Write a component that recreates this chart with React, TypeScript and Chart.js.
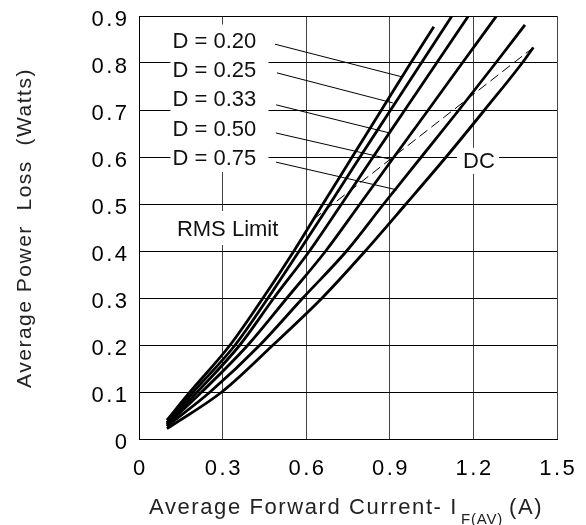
import React, { useEffect, useRef } from 'react';
import { Chart, registerables } from 'chart.js';

Chart.register(...registerables);

// Axis ticks
const xTickValues = [0, 0.3, 0.6, 0.9, 1.2, 1.5];
const xTickLabels = ['0', '0.3', '0.6', '0.9', '1.2', '1.5'];
const yTickValues = [0, 0.1, 0.2, 0.3, 0.4, 0.5, 0.6, 0.7, 0.8, 0.9];
const yTickLabels = ['0', '0.1', '0.2', '0.3', '0.4', '0.5', '0.6', '0.7', '0.8', '0.9'];

// Curves (x = average forward current A, y = power loss W)
const d020X = [0.1, 0.183, 0.327, 0.445, 0.556, 0.66, 0.765, 0.87, 0.975, 1.058];
const d020Y = [0.04, 0.1, 0.2, 0.3, 0.4, 0.5, 0.6, 0.7, 0.8, 0.877];
const d025X = [0.1, 0.195, 0.345, 0.463, 0.575, 0.685, 0.793, 0.903, 1.013, 1.123];
const d025Y = [0.035, 0.1, 0.2, 0.3, 0.4, 0.5, 0.6, 0.7, 0.8, 0.9];
const d033X = [0.1, 0.209, 0.362, 0.484, 0.612, 0.727, 0.84, 0.954, 1.068, 1.182];
const d033Y = [0.032, 0.1, 0.2, 0.3, 0.4, 0.5, 0.6, 0.7, 0.8, 0.9];
const d050X = [0.1, 0.225, 0.391, 0.531, 0.67, 0.793, 0.915, 1.038, 1.16, 1.283];
const d050Y = [0.03, 0.1, 0.2, 0.3, 0.4, 0.5, 0.6, 0.7, 0.8, 0.9];
const d075X = [0.1, 0.255, 0.434, 0.588, 0.745, 0.878, 1.013, 1.148, 1.28, 1.385];
const d075Y = [0.027, 0.1, 0.2, 0.3, 0.4, 0.5, 0.6, 0.7, 0.8, 0.881];
const dcX = [0.1, 0.297, 0.481, 0.657, 0.812, 0.958, 1.102, 1.24, 1.375, 1.415];
const dcY = [0.022, 0.1, 0.2, 0.3, 0.4, 0.5, 0.6, 0.7, 0.8, 0.833];

// RMS limit (dashed)
const rmsX = [0.625, 1.415];
const rmsY = [0.467, 0.833];

// Labels and their leader lines
const dLabels = ['D = 0.20', 'D = 0.25', 'D = 0.33', 'D = 0.50', 'D = 0.75'];
const dLabelX = 0.12;
const dLabelY = [0.85, 0.7875, 0.725, 0.6625, 0.6];
const leaderStartX = [0.488, 0.495, 0.492, 0.492, 0.492];
const leaderStartY = [0.84, 0.779, 0.711, 0.651, 0.589];
const leaderEndX = [0.947, 0.911, 0.9, 0.911, 0.926];
const leaderEndY = [0.77, 0.715, 0.651, 0.594, 0.53];

const rmsLabel = 'RMS Limit';
const rmsLabelPos = [0.136, 0.449];
const dcLabel = 'DC';
const dcLabelPos = [1.163, 0.594];

const xTitleMain = 'Average Forward Current- I';
const xTitleSub = 'F(AV)';
const xTitleTail = '(A)';
const yTitle = 'Average Power  Loss  (Watts)';

const toPts = (xs: number[], ys: number[]) => xs.map((x, i) => ({ x, y: ys[i] }));

const FONT = '"Liberation Sans", Arial, Helvetica, sans-serif';

const annotationPlugin = {
  id: 'annot',
  beforeDatasetsDraw(chart: any) {
    const ctx = chart.ctx as CanvasRenderingContext2D;
    const xs = chart.scales.x;
    const ys = chart.scales.y;
    ctx.save();
    ctx.font = `22px ${FONT}`;
    ctx.textBaseline = 'alphabetic';
    ctx.textAlign = 'left';
    dLabels.forEach((t, i) => {
      const px = xs.getPixelForValue(dLabelX);
      const py = ys.getPixelForValue(dLabelY[i]);
      ctx.fillStyle = '#fff';
      ctx.fillRect(px - 2, py - 15, 98, 30);
    });
    dLabels.forEach((t, i) => {
      const px = xs.getPixelForValue(dLabelX);
      const py = ys.getPixelForValue(dLabelY[i]);
      ctx.fillStyle = '#111';
      ctx.fillText(t, px, py + 8);
    });
    {
      const px = xs.getPixelForValue(rmsLabelPos[0]);
      const py = ys.getPixelForValue(rmsLabelPos[1]);
      ctx.fillStyle = '#fff';
      ctx.fillRect(px - 4, py - 17, 108, 34);
      ctx.fillStyle = '#111';
      ctx.fillText(rmsLabel, px, py + 8);
    }
    {
      const px = xs.getPixelForValue(dcLabelPos[0]);
      const py = ys.getPixelForValue(dcLabelPos[1]);
      ctx.fillStyle = '#fff';
      ctx.fillRect(px - 6, py - 12, 42, 26);
      ctx.fillStyle = '#111';
      ctx.fillText(dcLabel, px, py + 8);
    }
    ctx.restore();
  },
  afterDraw(chart: any) {
    const ctx = chart.ctx as CanvasRenderingContext2D;
    const xs = chart.scales.x;
    const ys = chart.scales.y;
    const area = chart.chartArea;
    ctx.save();
    const sp = 2.5;
    (ctx as any).letterSpacing = `${sp}px`;
    ctx.font = `22px ${FONT}`;
    ctx.fillStyle = '#000';
    ctx.textBaseline = 'alphabetic';
    ctx.textAlign = 'right';
    yTickValues.forEach((v, i) => {
      const py = ys.getPixelForValue(v);
      ctx.fillText(yTickLabels[i], area.left - 12 + sp, py + 10);
    });
    ctx.textAlign = 'center';
    xTickValues.forEach((v, i) => {
      const px = xs.getPixelForValue(v);
      ctx.fillText(xTickLabels[i], px + sp / 2, area.bottom + 36);
    });
    // x title
    ctx.fillStyle = '#222';
    ctx.textAlign = 'left';
    (ctx as any).letterSpacing = '1.6px';
    ctx.font = `22px ${FONT}`;
    const startX = 149;
    const baseY = 514;
    ctx.fillText(xTitleMain, startX, baseY);
    const w1 = ctx.measureText(xTitleMain).width;
    ctx.font = `15px ${FONT}`;
    (ctx as any).letterSpacing = '0.8px';
    const subX = startX + w1 + 3;
    ctx.fillText(xTitleSub, subX, baseY + 10);
    const w2 = ctx.measureText(xTitleSub).width;
    ctx.font = `22px ${FONT}`;
    (ctx as any).letterSpacing = '1.6px';
    ctx.fillText(xTitleTail, subX + w2 + 6, baseY);
    // y title
    (ctx as any).letterSpacing = '1.5px';
    ctx.font = `21px ${FONT}`;
    ctx.save();
    ctx.translate(31, 228);
    ctx.rotate(-Math.PI / 2);
    ctx.textAlign = 'center';
    ctx.fillText(yTitle, 0, 0);
    ctx.restore();
    ctx.restore();
  },
};

export default function App() {
  const ref = useRef<HTMLCanvasElement | null>(null);
  useEffect(() => {
    if (!ref.current) return;
    const curve = (xs: number[], ys: number[]) => ({
      data: toPts(xs, ys),
      borderColor: '#000',
      borderWidth: 2.8,
      pointRadius: 0,
      cubicInterpolationMode: 'monotone' as const,
      fill: false,
    });
    const leaders = dLabels.map((_, i) => ({
      data: [
        { x: leaderStartX[i], y: leaderStartY[i] },
        { x: leaderEndX[i], y: leaderEndY[i] },
      ],
      borderColor: '#000',
      borderWidth: 1,
      pointRadius: 0,
      fill: false,
    }));
    const chart = new Chart(ref.current, {
      type: 'line',
      data: {
        datasets: [
          curve(d020X, d020Y),
          curve(d025X, d025Y),
          curve(d033X, d033Y),
          curve(d050X, d050Y),
          curve(d075X, d075Y),
          curve(dcX, dcY),
          {
            data: toPts(rmsX, rmsY),
            borderColor: '#000',
            borderWidth: 1,
            borderDash: [10, 5],
            pointRadius: 0,
            fill: false,
          },
          ...leaders,
        ] as any,
      },
      options: {
        animation: false,
        responsive: false,
        maintainAspectRatio: false,
        layout: { padding: { top: 16, right: 29, left: 0, bottom: 0 } },
        plugins: { legend: { display: false }, tooltip: { enabled: false } },
        scales: {
          x: {
            type: 'linear',
            min: 0,
            max: 1.5,
            ticks: { display: false, stepSize: 0.3 },
            grid: { color: '#444', lineWidth: 1, drawTicks: false },
            border: { display: true, color: '#000', width: 1 },
            afterFit: (s: any) => {
              s.height = 86;
            },
          },
          y: {
            type: 'linear',
            min: 0,
            max: 0.9,
            ticks: { display: false, stepSize: 0.1 },
            grid: { color: '#000', lineWidth: 1, drawTicks: false },
            border: { display: true, color: '#000', width: 1 },
            afterFit: (s: any) => {
              s.width = 139;
            },
          },
        },
      } as any,
      plugins: [annotationPlugin],
    });
    return () => chart.destroy();
  }, []);
  return (
    <div style={{ position: 'fixed', left: 0, top: 0, width: 586, height: 525, background: '#fff' }}>
      <canvas ref={ref} width={586} height={525} style={{ width: 586, height: 525, display: 'block' }} />
    </div>
  );
}
